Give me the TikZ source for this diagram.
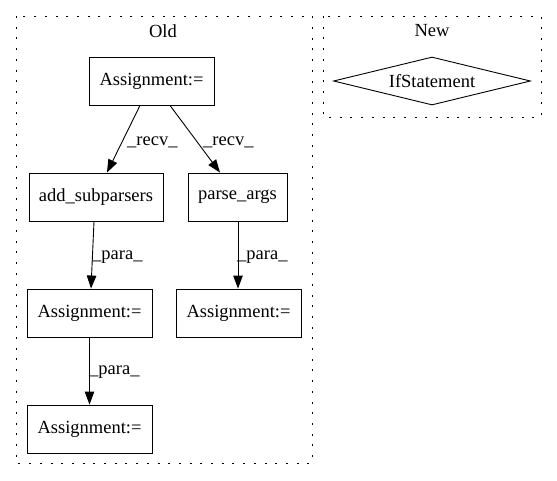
\documentclass[tikz,border=0pt]{standalone}
\usepackage{fontspec}
\setmainfont{Liberation Serif}
\usetikzlibrary{arrows.meta,shapes.geometric}
\begin{document}
\begin{tikzpicture}[x=1pt,y=-1pt,
  font=\fontsize{18.5}{21}\selectfont,
  box/.style={draw,line width=0.9pt,minimum height=48pt,inner sep=0pt},
  cluster/.style={draw,line width=1pt,dash pattern=on 2pt off 8.7pt},
  edge/.style={line width=0.9pt,-{Triangle[length=13pt,width=9.5pt]}},
  elab/.style={anchor=west,inner sep=0pt,font=\fontsize{18.5}{21}\selectfont}]
\useasboundingbox (0,0) rectangle (557,480);
\draw[cluster] (16,16) rectangle (312,463);
\draw[cluster] (323,16) rectangle (541,117);
\node (oldlab) at (163,31) {Old};
\node (newlab) at (432,31) {New};
\node[draw,line width=0.9pt,diamond,aspect=4.1,minimum width=197pt,minimum height=48pt,inner sep=0pt] (ifs) at (432,81) {IfStatement};
\node[box,minimum width=125pt] (a0) at (151.5,81) {Assignment:=};
\node[box,minimum width=134pt] (add) at (96,197) {add\_subparsers};
\node[box,minimum width=99pt] (parse) at (237.5,197) {parse\_args};
\node[box,minimum width=125pt] (a1) at (89.5,313) {Assignment:=};
\node[box,minimum width=125pt] (a2) at (238.5,313) {Assignment:=};
\node[box,minimum width=125pt] (a3) at (89.5,429) {Assignment:=};
\draw[edge] ([xshift=-11.5pt]a0.south) -- ([xshift=11pt]add.north);
\draw[edge] ([xshift=18.5pt]a0.south) -- ([xshift=-17.5pt]parse.north);
\draw[edge] ([xshift=-2pt]add.south) -- ([xshift=1.5pt]a1.north);
\draw[edge] ([xshift=0.5pt]parse.south) -- ([xshift=-0.5pt]a2.north);
\draw[edge] (a1.south) -- (a3.north);
\node[elab] (l1) at (127,142) {\_recv\_};
\node[elab] (l2) at (203,142) {\_recv\_};
\node[elab] (l3) at (92,257) {\_para\_};
\node[elab] (l4) at (237,257) {\_para\_};
\node[elab] (l5) at (89,372) {\_para\_};
\end{tikzpicture}
\end{document}
